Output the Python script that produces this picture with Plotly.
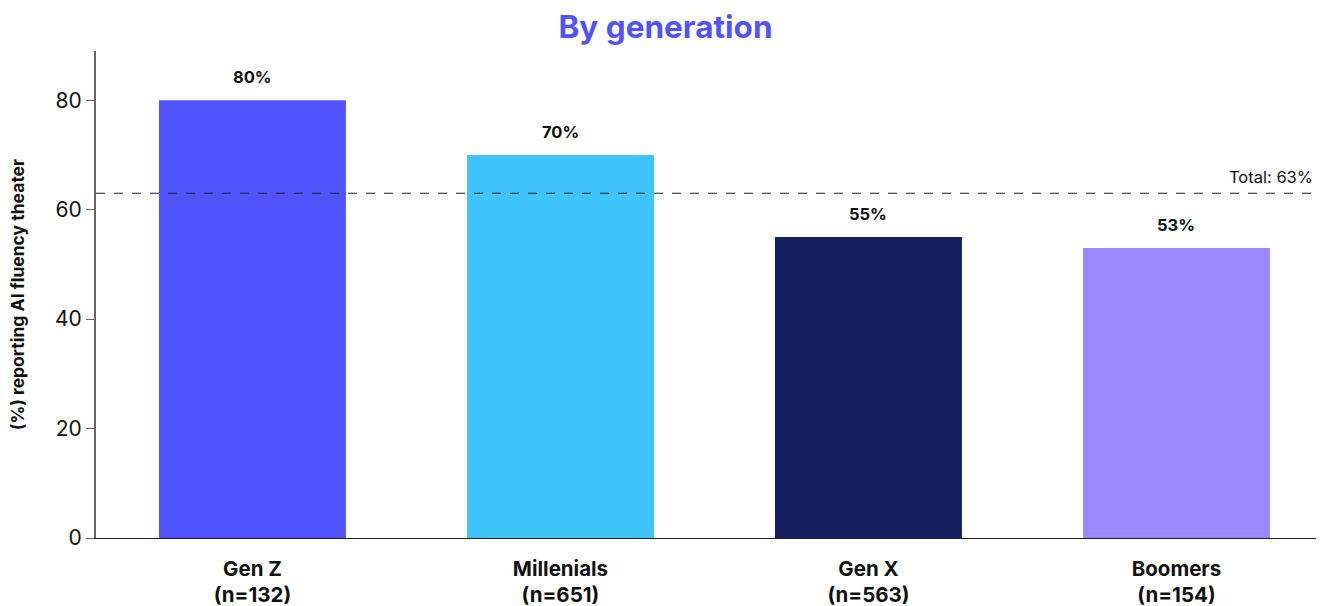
import plotly.graph_objects as go

# Share of respondents reporting AI fluency theater, by generation
generations = ["Gen Z", "Millenials", "Gen X", "Boomers"]
sample_sizes = [132, 651, 563, 154]
share_pct = [80, 70, 55, 53]
total_pct = 63
bar_colors = ["#5053FF", "#40C4FC", "#171F63", "#9B87FF"]
y_ticks = [0, 20, 40, 60, 80]

FONT = "Inter, Roboto, 'DejaVu Sans', sans-serif"

tick_text = [f"<b>{g}<br>(n={n})</b>" for g, n in zip(generations, sample_sizes)]
x_idx = list(range(len(generations)))

fig = go.Figure()
fig.add_trace(go.Bar(
    x=x_idx,
    y=share_pct,
    width=0.607,
    marker=dict(color=bar_colors, line=dict(width=0)),
    hoverinfo="skip",
))

# value labels above each bar
for i, v in zip(x_idx, share_pct):
    fig.add_annotation(
        x=i, y=v, text=f"<b>{v}%</b>", showarrow=False,
        yanchor="middle", yshift=23,
        font=dict(family=FONT, size=16.5, color="#111111"),
    )

# overall reference line
fig.add_shape(
    type="line", xref="paper", x0=0, x1=1, yref="y", y0=total_pct, y1=total_pct,
    line=dict(color="#222222", width=1.2, dash="dash"),
)
fig.add_annotation(
    xref="paper", x=0.999, y=total_pct, text=f"Total: {total_pct}%", showarrow=False,
    xanchor="right", yanchor="bottom", yshift=4,
    font=dict(family=FONT, size=16.5, color="#111111"),
)

fig.update_layout(
    width=1331, height=606,
    margin=dict(l=96, r=15, t=51, b=68),
    paper_bgcolor="white", plot_bgcolor="white",
    showlegend=False,
    bargap=0.39,
    title=dict(
        text="<b>By generation</b>", x=0.5, xanchor="center",
        y=0.955, yanchor="middle", yref="container",
        font=dict(family=FONT, size=31.5, color="#5053FF"),
    ),
    font=dict(family=FONT, color="#111111"),
)

fig.update_xaxes(
    range=[-0.508, 3.453],
    tickmode="array", tickvals=x_idx, ticktext=tick_text,
    tickfont=dict(family=FONT, size=20.5, color="#111111"),
    ticklabelstandoff=12,
    automargin=False,
    showline=True, linecolor="#222222", linewidth=1.2,
    ticks="", showgrid=False, zeroline=False,
)
fig.update_yaxes(
    range=[0, 89],
    tickmode="array", tickvals=y_ticks,
    tickfont=dict(family=FONT, size=21, color="#111111"),
    ticks="outside", ticklen=8, tickcolor="#666666", tickwidth=1.2,
    automargin=False,
    showline=True, linecolor="#666666", linewidth=2,
    showgrid=False, zeroline=False,
    title=dict(
        text="<b>(%) reporting AI fluency theater</b>",
        font=dict(family=FONT, size=17.5, color="#111111"),
        standoff=26,
    ),
)

fig.write_html("out.html")
